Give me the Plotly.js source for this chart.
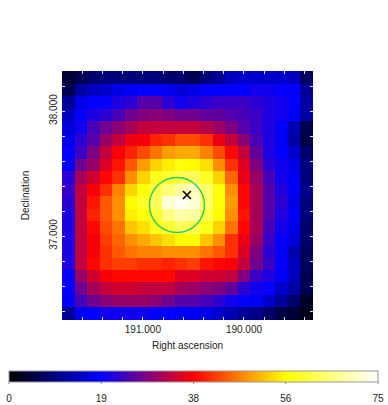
<!DOCTYPE html>
<html>
<head>
<meta charset="utf-8">
<script src="https://cdn.plot.ly/plotly-3.0.1.min.js"></script>
<style>
  html, body { margin: 0; padding: 0; background: #fff; }
</style>
</head>
<body>
<div id="plot" style="width:388px;height:405px;"></div>
<script>
// bin centres of the counts map
const raCenters = [191.738, 191.614, 191.490, 191.366, 191.242, 191.117, 190.993, 190.869, 190.745, 190.621,
                   190.497, 190.373, 190.248, 190.124, 190.000, 189.876, 189.752, 189.628, 189.504, 189.379];
const decCenters = [38.27, 38.17, 38.07, 37.97, 37.87, 37.77, 37.67, 37.57, 37.47, 37.37,
                    37.27, 37.17, 37.07, 36.97, 36.87, 36.78, 36.68, 36.58, 36.48, 36.38];

// counts, top row first
const counts = [
  [ 4,  6,  8,  9,  9,  9,  9,  9,  8,  8,  6,  9, 11, 14, 15, 15, 15, 15, 14,  7],
  [ 6, 12, 14, 15, 17, 18, 19, 19, 18, 16, 17, 19, 19, 19, 19, 20, 20, 19, 19, 11],
  [11, 17, 19, 19, 21, 22, 25, 25, 22, 20, 21, 22, 23, 23, 23, 22, 21, 20, 19, 12],
  [14, 19, 21, 22, 24, 27, 28, 29, 28, 27, 27, 26, 26, 25, 24, 23, 21, 20, 18, 12],
  [16, 20, 24, 27, 29, 31, 33, 33, 33, 33, 33, 32, 30, 28, 25, 23, 21, 18, 13,  6],
  [17, 22, 25, 30, 33, 36, 37, 40, 41, 43, 43, 41, 36, 33, 29, 24, 21, 18, 12,  5],
  [19, 23, 28, 33, 37, 40, 43, 46, 49, 50, 50, 47, 43, 38, 33, 26, 21, 19, 15,  8],
  [18, 27, 30, 35, 39, 44, 49, 53, 55, 57, 56, 54, 48, 41, 35, 28, 22, 20, 17,  9],
  [22, 31, 34, 38, 41, 48, 53, 58, 60, 62, 63, 59, 53, 45, 36, 30, 24, 20, 18,  9],
  [23, 33, 37, 41, 47, 53, 57, 62, 65, 68, 70, 64, 57, 48, 38, 31, 25, 21, 18, 10],
  [22, 33, 39, 44, 48, 56, 59, 63, 72, 74, 72, 64, 57, 49, 38, 31, 25, 22, 17,  9],
  [21, 33, 40, 44, 48, 55, 57, 60, 66, 69, 68, 62, 56, 48, 39, 31, 25, 21, 18,  9],
  [21, 33, 38, 43, 46, 52, 54, 58, 60, 63, 62, 58, 53, 46, 38, 31, 24, 20, 17,  8],
  [21, 33, 37, 42, 45, 48, 50, 52, 54, 56, 56, 52, 48, 41, 36, 30, 23, 19, 16,  8],
  [21, 33, 37, 41, 44, 46, 47, 47, 48, 48, 48, 46, 44, 41, 35, 28, 22, 18, 13,  7],
  [21, 33, 38, 41, 42, 42, 41, 41, 40, 41, 42, 39, 38, 37, 33, 27, 23, 19, 14,  7],
  [19, 30, 34, 37, 38, 38, 38, 38, 38, 35, 35, 34, 34, 33, 28, 23, 21, 18, 14,  6],
  [19, 27, 31, 33, 34, 34, 33, 33, 33, 31, 30, 29, 28, 26, 22, 20, 19, 15, 12,  6],
  [18, 24, 27, 29, 30, 30, 30, 29, 27, 25, 25, 24, 22, 20, 19, 18, 15, 11,  8,  3],
  [11, 18, 19, 20, 20, 20, 20, 19, 19, 18, 18, 17, 15, 13, 11, 10,  8,  5,  4,  2]
];

const cbarTicks = [0, 18.75, 37.5, 56.25, 75];
const cbarLabels = ["0", "19", "38", "56", "75"];

const markerRa = [190.564];
const markerDec = [37.328];

const bb = [[0, "#000000"], [0.25, "#0000ff"], [0.5, "#ff0000"], [0.75, "#ffff00"], [1, "#ffffff"]];
const font = { family: "Liberation Sans, Arial, sans-serif", size: 10, color: "#222" };

const traces = [
  {
    type: "heatmap", x: raCenters, y: decCenters, z: counts,
    zmin: 0, zmax: 75, colorscale: bb, hoverinfo: "skip",
    colorbar: {
      orientation: "h", xref: "paper", yref: "paper",
      x: 0.524, xanchor: "center", y: -0.205, yanchor: "top",
      lenmode: "pixels", len: 369, thicknessmode: "pixels", thickness: 11,
      outlinecolor: "#999", outlinewidth: 1,
      tickmode: "array", tickvals: cbarTicks, ticktext: cbarLabels,
      // long clear ticks push the labels down, the short visible ones are shapes
      ticks: "outside", ticklen: 8, tickcolor: "rgba(0,0,0,0)", tickfont: font,
      xpad: 0, ypad: 0
    }
  },
  {
    type: "scatter", mode: "markers", x: markerRa, y: markerDec, hoverinfo: "skip",
    marker: { symbol: "x-thin", size: 8, line: { color: "#000", width: 1.6 } }
  }
];

// short grey ticks under the colour bar, bar runs 9..378 px, plot area 62..313 px
const cbarTickShapes = cbarTicks.map(v => {
  const px = (9 + v / 75 * 369 - 62) / 251;
  return {
    type: "line", xref: "paper", yref: "paper", x0: px, x1: px, y0: -62 / 249, y1: -64 / 249,
    line: { color: "#888", width: 1 }
  };
});

const layout = {
  width: 388, height: 405,
  margin: { l: 62, r: 75, t: 71, b: 85, pad: 0, autoexpand: false },
  paper_bgcolor: "#fff", plot_bgcolor: "#fff",
  font: font, showlegend: false,
  xaxis: {
    range: [191.80, 189.317], showgrid: false, zeroline: false, mirror: "ticks",
    linecolor: "rgba(0,0,0,0)", linewidth: 1, showline: true,
    ticks: "inside", ticklen: 3, tickcolor: "#dde",
    tickmode: "array",
    tickvals: [191.6, 191.4, 191.2, 191, 190.8, 190.6, 190.4, 190.2, 190, 189.8, 189.6, 189.4],
    ticktext: ["", "", "", "191.000", "", "", "", "", "190.000", "", "", ""],
    title: { text: "Right ascension", font: font, standoff: 7 }
  },
  yaxis: {
    range: [36.328, 38.32], showgrid: false, zeroline: false, mirror: "ticks",
    linecolor: "rgba(0,0,0,0)", linewidth: 1, showline: true,
    ticks: "inside", ticklen: 3, tickcolor: "#dde",
    tickmode: "array",
    tickvals: [36.4, 36.6, 36.8, 37, 37.2, 37.4, 37.6, 37.8, 38, 38.2],
    ticktext: ["", "", "", "37.000", "", "", "", "", "38.000", ""],
    tickangle: -90,
    title: { text: "Declination", font: font, standoff: 16 }
  },
  shapes: [{
    type: "circle", xref: "x", yref: "y",
    x0: 190.935, x1: 190.391, y0: 37.028, y1: 37.468,
    line: { color: "#32cd50", width: 1.5 }
  }].concat(cbarTickShapes)
};

Plotly.newPlot("plot", traces, layout, { displayModeBar: false, staticPlot: true });
</script>
</body>
</html>
